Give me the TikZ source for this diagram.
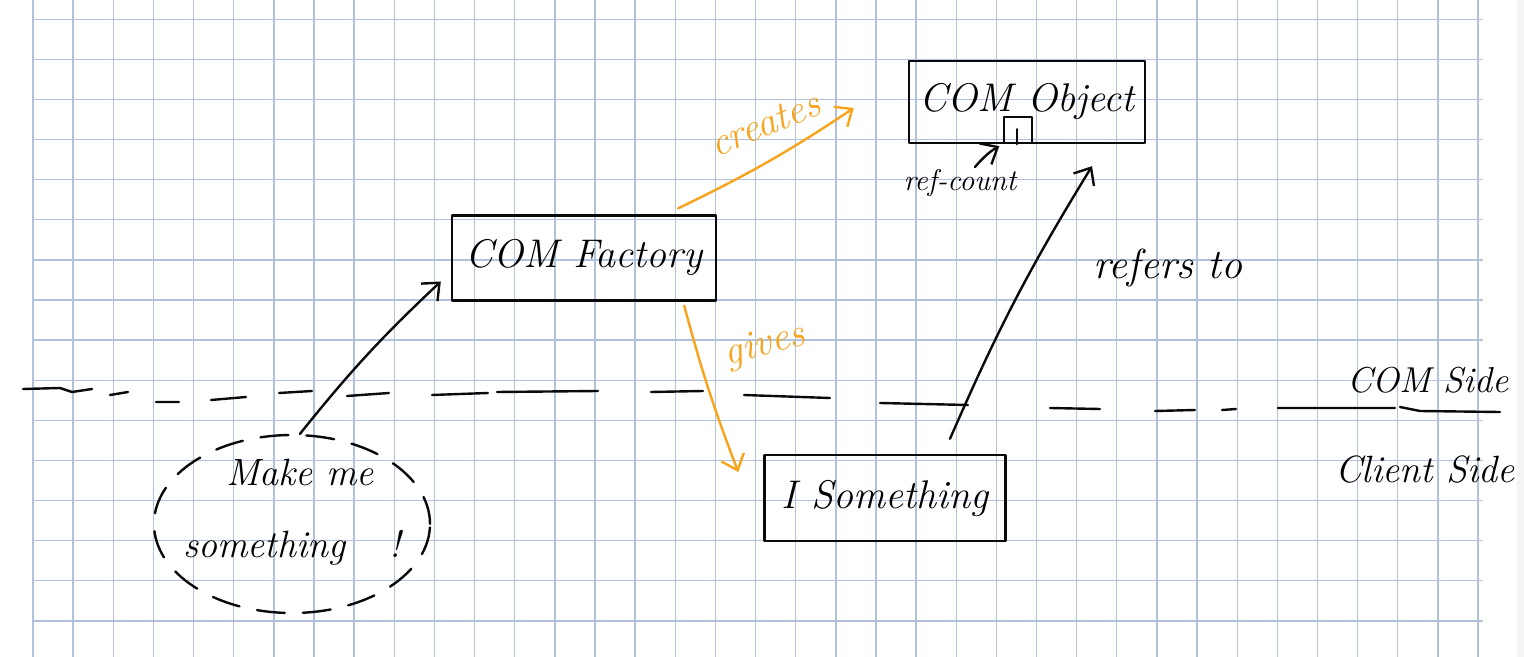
\documentclass[tikz,border=0pt]{standalone}
\usepackage{fontspec}
\usetikzlibrary{arrows.meta,shapes.geometric,calc}
\definecolor{gridc}{RGB}{178,194,218}
\definecolor{pen}{RGB}{10,10,10}
\definecolor{hl}{RGB}{247,163,28}
\tikzset{
  gridline/.style={draw=gridc,line width=0.7pt},
  ink/.style={draw=pen,line width=1.2pt,line cap=round,line join=round},
  hand/.style={font=\itshape\fontsize{20}{24}\selectfont},
  box/.style={ink,hand,rectangle,inner sep=0pt},
  lbl/.style={hand,inner sep=1pt},
  tip/.style={-{Straight Barb[length=7pt,width=12pt,line width=1.2pt]}},
  orangeline/.style={draw=hl,line width=1.2pt,line cap=round,line join=round},
}
\begin{document}
\begin{tikzpicture}[x=0.5pt,y=-0.5pt]
\useasboundingbox (0,0) rectangle (1524,657);
\fill[white] (0,0) rectangle (1524,657);
\fill[black!4] (1517,0) rectangle (1524,657);
% grid
\foreach \k in {0,...,36} \draw[gridline] ({33+40.14*\k},0) -- ({33+40.14*\k},657);
\foreach \k in {0,...,15} \draw[gridline] (33,{19.3+40.1*\k}) -- (1483,{19.3+40.1*\k});

% boxes
\node[box,minimum width=118pt,minimum height=41pt] (obj) at (1027,102) {COM Object};
\node[box,minimum width=132pt,minimum height=42.5pt] (factory) at (584,258) {COM Factory};
\node[box,minimum width=120.5pt,minimum height=43pt] (isom) at (885,498) {I Something};
\node[ink,ellipse,dash pattern=on 14pt off 9pt,minimum width=138pt,minimum height=89pt,
      font=\itshape\fontsize{19}{40}\selectfont,inner sep=0pt] (wish) at (292,524)
      {\raisebox{5pt}[0pt][0pt]{\makebox[0pt]{\begin{tabular}{@{}c@{}}\hspace*{8pt}Make me\\[-4pt] something\hspace{22pt}!\end{tabular}}}};

% ref-count box
\node[ink,rectangle,minimum width=14pt,minimum height=13pt,inner sep=0pt,anchor=south] (rcbox)
      at ($(obj.south)+(-9,0)$) {};
\draw[ink] ($(rcbox.south)+(-1,0)$) -- ++(0,-15);
\node[lbl,font=\itshape\fontsize{15}{18}\selectfont] (rclabel) at (960,183) {ref-count};
\draw[ink,tip,shorten >=2pt] ($(rclabel.north)+(15,0)$) to[bend left=10] (rcbox.south west);

% separator between COM side and client side
\draw[ink]
  (23,389) -- (60,388) -- (72,392) -- (92,389)
  (110,395) -- (128,392)
  (156,402) -- (179,402)
  (211,400) -- (246,397)
  (279,393) -- (312,391)
  (347,396) -- (389,393)
  (432,395) -- (488,393)
  (497,392) -- (598,391)
  (651,392) -- (703,391)
  (744,395) -- (830,398)
  (880,403) -- (968,405)
  (1050,408) -- (1100,409)
  (1155,411) -- (1195,410)
  (1222,410) -- (1236,409)
  (1278,408) -- (1395,408)
  (1400,407) -- (1420,411) -- (1500,412);
\node[lbl,font=\itshape\fontsize{18}{20}\selectfont] (comside) at (1428,380) {COM Side};
\node[lbl,font=\itshape\fontsize{19}{22}\selectfont] (clientside) at (1425,470) {Client Side};

% connectors
\draw[ink,tip] (wish.85) to[bend left=4] ($(factory.190)+(-10,0)$);
\draw[orangeline,tip] ($(factory.north east)+(-39,-6)$) to[bend right=4] ($(obj.west)+(-54,6)$);
\node[lbl,text=hl,rotate=22] (creates) at (765,124) {creates};
\draw[orangeline,tip] ($(factory.south east)+(-33,4)$) to[bend right=3] ($(isom.west)+(-25,-26)$);
\node[lbl,text=hl,rotate=15] (gives) at (765,346) {gives};
\draw[ink,tip] ($(isom.north)+(65,-15)$) to[bend left=4] ($(obj.south)+(65,22)$);
\node[lbl,font=\itshape\fontsize{21}{24}\selectfont] (refers) at (1168,268) {refers to};
\end{tikzpicture}
\end{document}
